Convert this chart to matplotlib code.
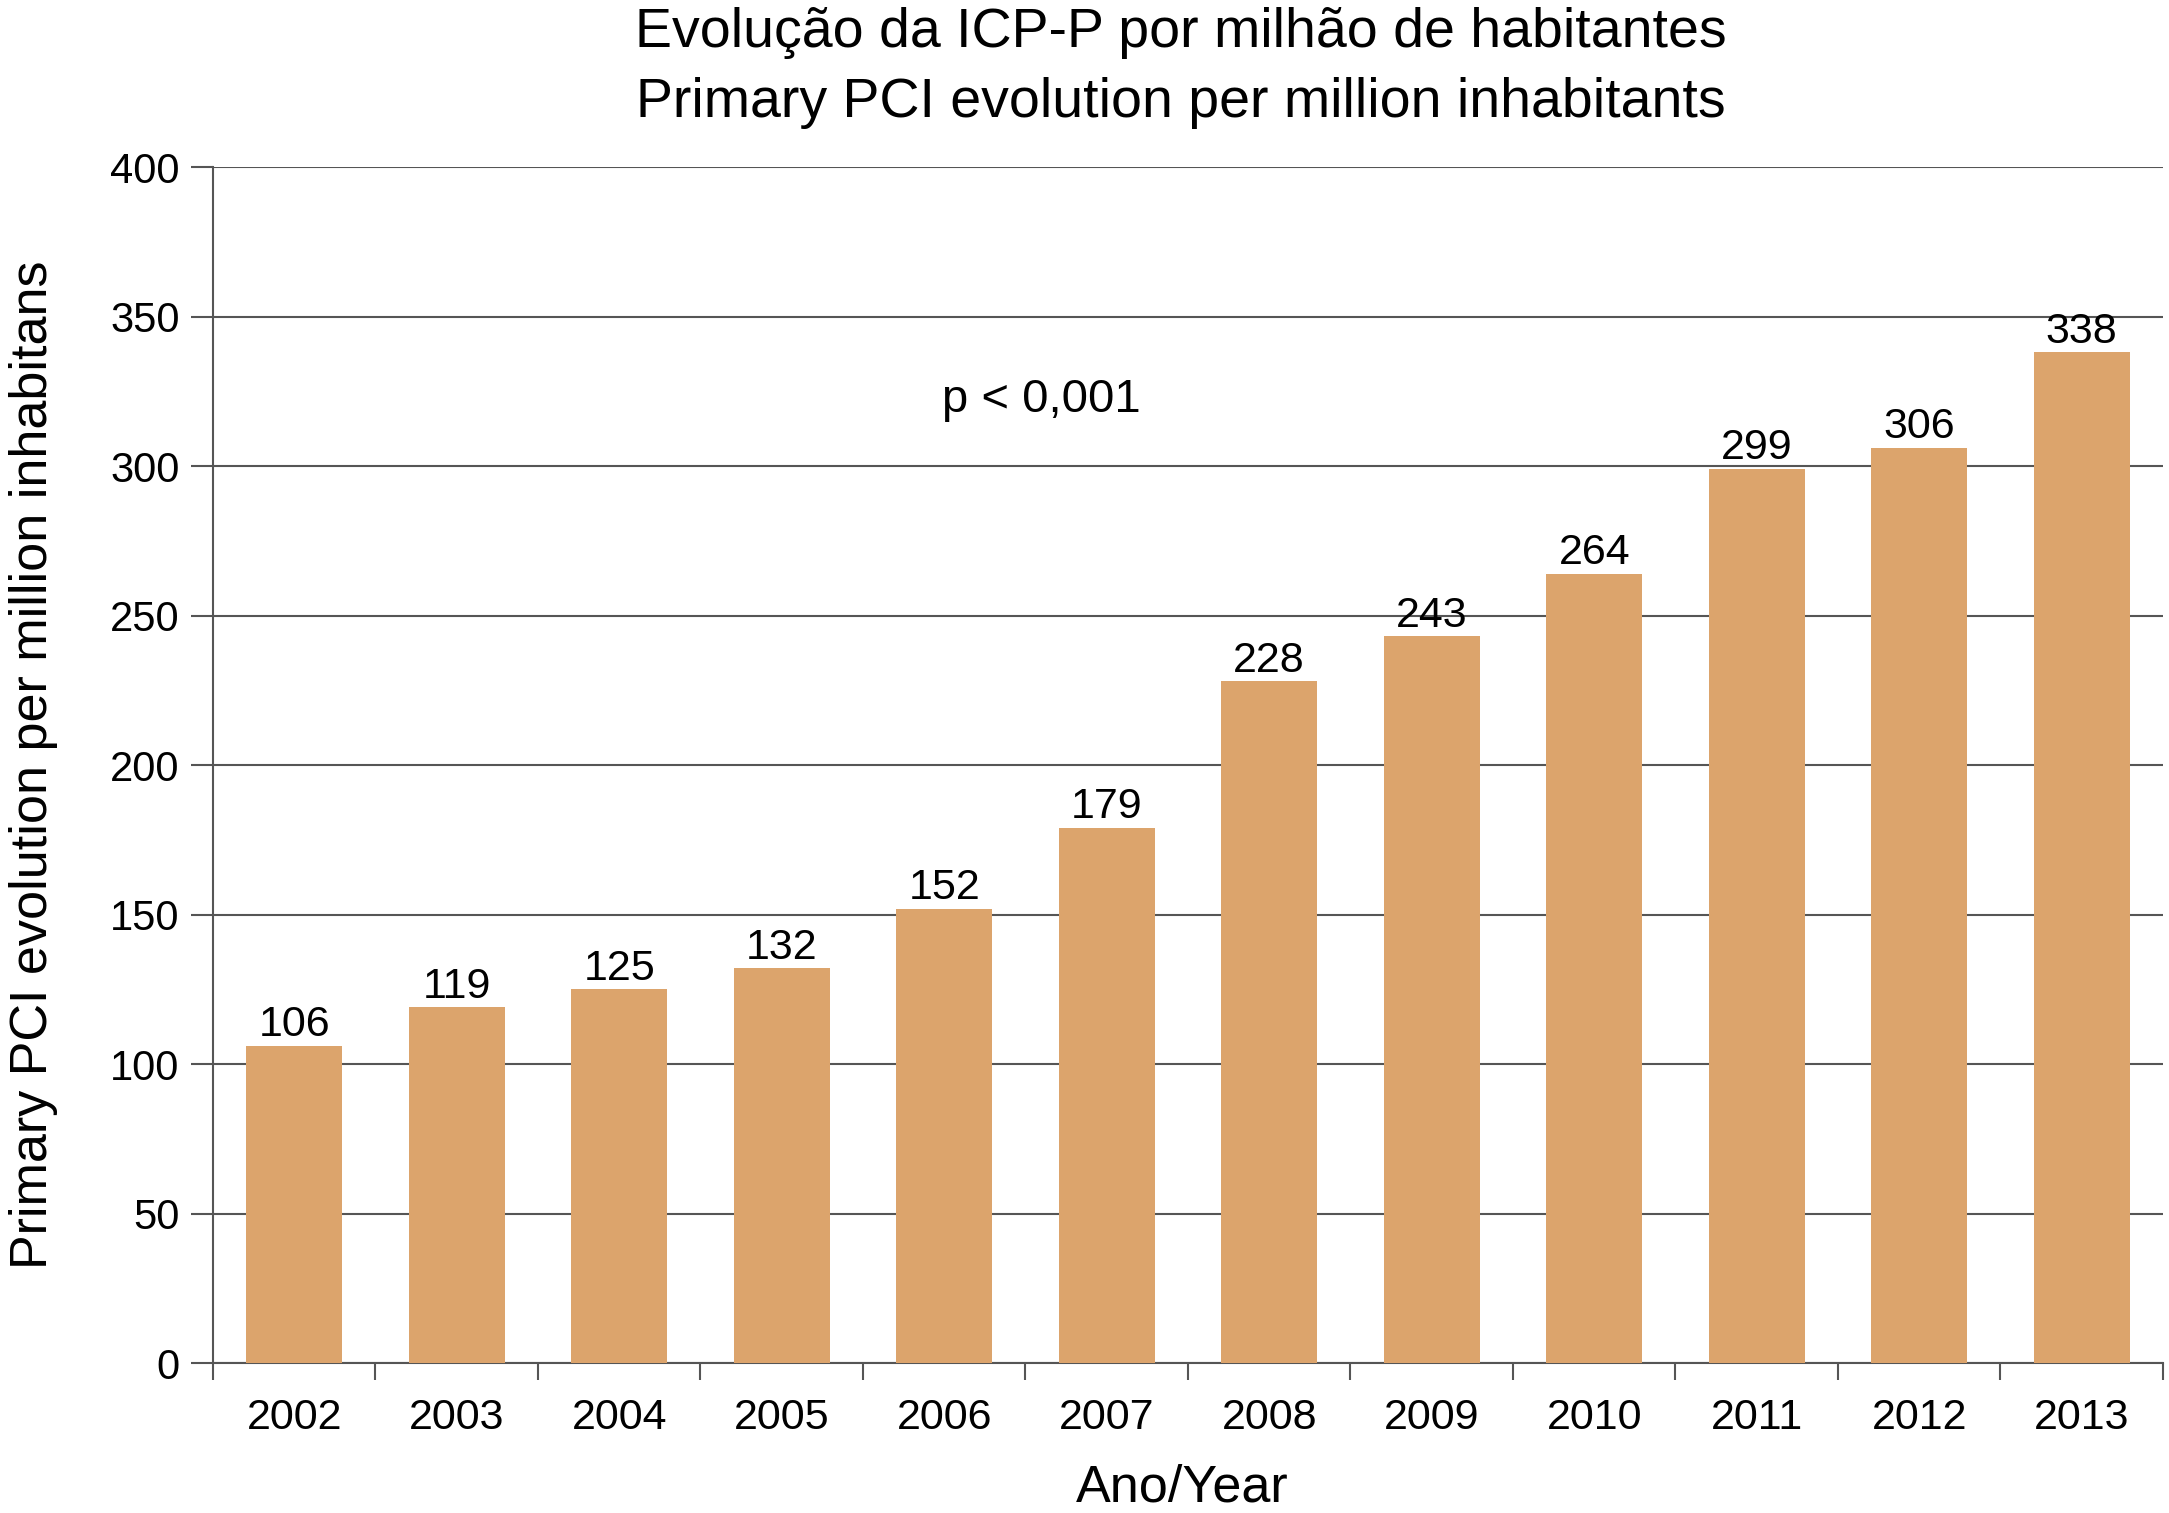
import matplotlib
matplotlib.use("Agg")
import matplotlib.pyplot as plt
import numpy as np
from matplotlib.ticker import FixedLocator, NullFormatter

years = ["2002", "2003", "2004", "2005", "2006", "2007",
         "2008", "2009", "2010", "2011", "2012", "2013"]
values = [106, 119, 125, 132, 152, 179, 228, 243, 264, 299, 306, 338]
yticks = [0, 50, 100, 150, 200, 250, 300, 350, 400]
title_lines = ["Evolução da ICP-P por milhão de habitantes",
               "Primary PCI evolution per million inhabitants"]
ylabel = "Primary PCI evolution per million inhabitans"
xlabel = "Ano/Year"
annotation = "p < 0,001"

plt.rcParams['font.family'] = ['Liberation Sans', 'DejaVu Sans']

fig = plt.figure(figsize=(21.69, 15.13), dpi=100)
ax = fig.add_axes([0.0982, 0.0991, 0.9972 - 0.0982, 0.8896 - 0.0991])

x = np.arange(len(years))
bar_color = "#DCA46C"
ax.bar(x, values, width=0.59, color=bar_color, zorder=3)

grid_color = "#555555"
ax.set_ylim(0, 400)
ax.set_xlim(-0.5, len(years) - 0.5)
ax.set_yticks(yticks)
ax.set_yticklabels([str(v) for v in yticks])
ax.yaxis.grid(True, color=grid_color, linewidth=1.5, zorder=1)
ax.set_axisbelow(True)

ax.set_xticks(x)
ax.set_xticklabels(years)
ax.xaxis.set_minor_locator(FixedLocator(np.arange(-0.5, len(years), 1.0)))
ax.xaxis.set_minor_formatter(NullFormatter())
ax.tick_params(axis='x', which='major', length=0, pad=25, labelsize=31)
ax.tick_params(axis='x', which='minor', length=12, width=1.5, color=grid_color, direction='out')
ax.tick_params(axis='y', which='major', length=16, width=1.5, color=grid_color, pad=8, labelsize=30)

for s in ['top', 'right']:
    ax.spines[s].set_visible(False)
for s in ['left', 'bottom']:
    ax.spines[s].set_color(grid_color)
    ax.spines[s].set_linewidth(1.5)

for xi, v in zip(x, values):
    ax.annotate(str(v), (xi, v), xytext=(0, 7), textcoords='offset points',
                ha='center', va='baseline', fontsize=31, zorder=4)

ax.text(4.6, 322, annotation, ha='center', va='center', fontsize=34)

ax.set_ylabel(ylabel, fontsize=37.5)
ax.yaxis.set_label_coords(-0.0795, 0.5)
ax.set_xlabel(xlabel, fontsize=37.5)
ax.xaxis.set_label_coords(0.497, -0.084)

fig.text(0.5445, 0.955, "\n".join(title_lines), ha='center', va='center',
         fontsize=40, linespacing=1.44)

fig.savefig("out.png", dpi=100)
